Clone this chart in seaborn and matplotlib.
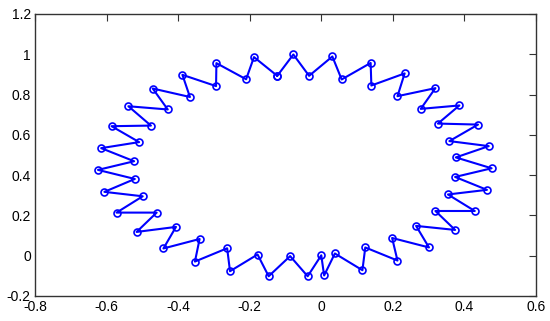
import matplotlib
matplotlib.use("Agg")
import matplotlib.pyplot as plt
import seaborn as sns
import pandas as pd
from matplotlib.ticker import FuncFormatter, MultipleLocator

x_vals = [-0.123, -0.078, -0.034, 0.031, 0.057, 0.138, 0.140, 0.233, 0.213, 0.319,
          0.278, 0.386, 0.326, 0.438, 0.358, 0.468, 0.376, 0.476, 0.374, 0.463,
          0.354, 0.429, 0.319, 0.374, 0.265, 0.301, 0.198, 0.213, 0.123, 0.115,
          0.038, 0.008, 0.000, -0.038, -0.087, -0.147, -0.178, -0.255, -0.263, -0.353,
          -0.340, -0.441, -0.406, -0.516, -0.460, -0.572, -0.499, -0.606, -0.521, -0.624,
          -0.523, -0.615, -0.509, -0.586, -0.476, -0.539, -0.429, -0.471, -0.367, -0.388,
          -0.294, -0.293, -0.210, -0.188]
y_vals = [0.893, 0.999, 0.893, 0.989, 0.875, 0.957, 0.845, 0.905, 0.792, 0.832,
          0.729, 0.746, 0.656, 0.651, 0.569, 0.544, 0.488, 0.434, 0.391, 0.327,
          0.304, 0.222, 0.222, 0.128, 0.148, 0.041, 0.088, -0.024, 0.041, -0.072,
          0.011, -0.098, 0.002, -0.102, -0.002, -0.102, 0.006, -0.077, 0.037, -0.029,
          0.083, 0.036, 0.143, 0.118, 0.214, 0.214, 0.295, 0.317, 0.381, 0.426,
          0.469, 0.534, 0.564, 0.643, 0.646, 0.742, 0.726, 0.830, 0.788, 0.898,
          0.842, 0.956, 0.876, 0.986]

x_ticks = [-0.8, -0.6, -0.4, -0.2, 0, 0.2, 0.4, 0.6]
y_ticks = [-0.2, 0, 0.2, 0.4, 0.6, 0.8, 1, 1.2]

sns.set_style("white")
plt.rcParams['font.family'] = ['Liberation Sans', 'DejaVu Sans']
plt.rcParams['axes.unicode_minus'] = False

# close the loop
xs = x_vals + x_vals[:1]
ys = y_vals + y_vals[:1]
df = pd.DataFrame({"x": xs, "y": ys, "order": range(len(xs))})

fig = plt.figure(figsize=(5.5, 3.21), dpi=100)
ax = fig.add_axes([0.0636, 0.0779, 0.9109, 0.8785])

sns.lineplot(data=df, x="x", y="y", sort=False, estimator=None, ax=ax,
             color="#0000ff", linewidth=1.5, marker="o", markersize=5,
             markerfacecolor="none", markeredgecolor="#0000ff", markeredgewidth=1.2)

ax.set_xlim(-0.8, 0.6)
ax.set_ylim(-0.2, 1.2)
ax.set_xticks(x_ticks)
ax.set_yticks(y_ticks)
fmt = FuncFormatter(lambda v, p: "%g" % round(v, 3))
ax.xaxis.set_major_formatter(fmt)
ax.yaxis.set_major_formatter(fmt)
ax.set_xlabel("")
ax.set_ylabel("")
ax.tick_params(direction="in", length=5, width=0.8, color="#333333",
               top=True, right=True, labelsize=10, labelcolor="black", pad=3)
for s in ax.spines.values():
    s.set_visible(True)
    s.set_color("#333333")
    s.set_linewidth(1.0)

fig.savefig("out.png", dpi=100)
